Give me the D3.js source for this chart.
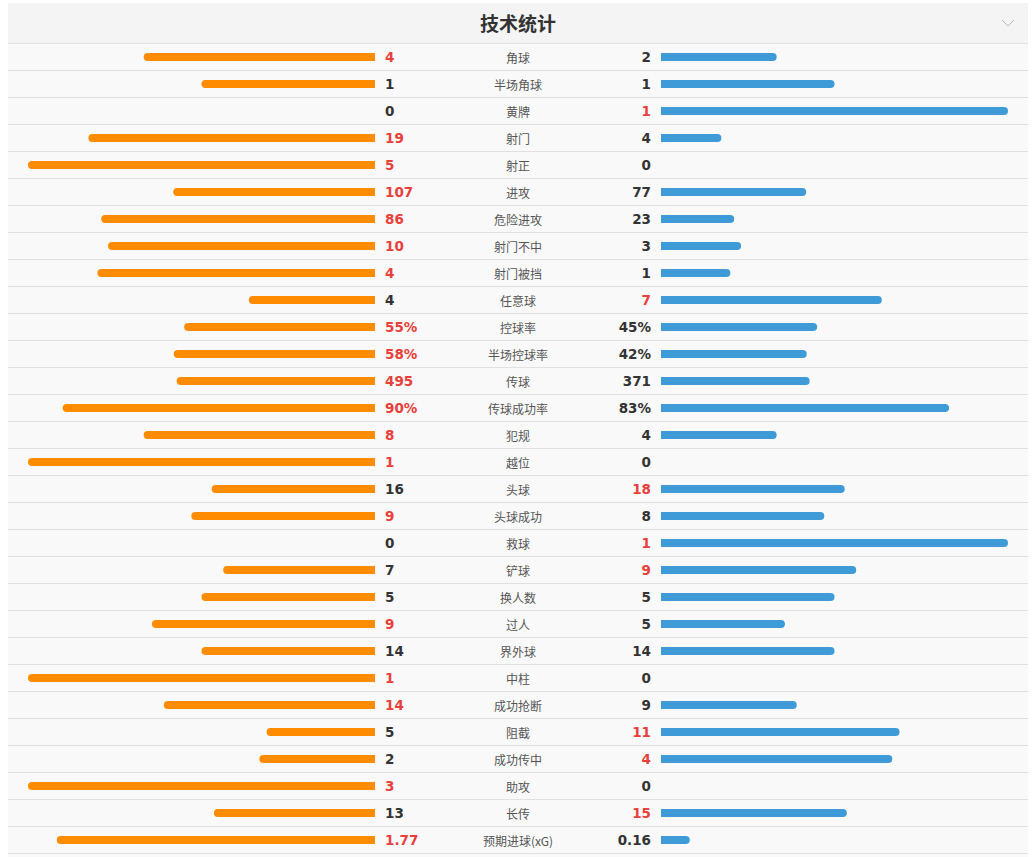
<!DOCTYPE html>
<html>
<head>
<meta charset="utf-8">
<script src="https://cdn.jsdelivr.net/npm/d3@7/dist/d3.min.js"></script>
<style>
html,body{margin:0;padding:0;background:#fff;}
svg{display:block;}
</style>
</head>
<body>
<svg id="chart" width="1036" height="857"></svg>
<script>
const title = "技术统计";
const categories = ["角球","半场角球","黄牌","射门","射正","进攻","危险进攻","射门不中","射门被挡","任意球","控球率","半场控球率","传球","传球成功率","犯规","越位","头球","头球成功","救球","铲球","换人数","过人","界外球","中柱","成功抢断","阻截","成功传中","助攻","长传","预期进球(xG)"];
const homeValues = ["4","1","0","19","5","107","86","10","4","4","55%","58%","495","90%","8","1","16","9","0","7","5","9","14","1","14","5","2","3","13","1.77"];
const awayValues = ["2","1","1","4","0","77","23","3","1","7","45%","42%","371","83%","4","0","18","8","1","9","5","5","14","0","9","11","4","0","15","0.16"];

const W = 1036, H = 857;
const panelX = 8, panelW = 1020, panelY = 3;
const headerH = 40, rowH = 27;
const centerX = 518;
const leftBarEnd = 375, rightBarStart = 661;
const barH = 8;

const svg = d3.select("#chart");

function fractions(h, a) {
  const isPct = h.endsWith("%");
  const hv = parseFloat(h), av = parseFloat(a);
  if (isPct) return [hv / 100, av / 100];
  const s = hv + av;
  return s === 0 ? [0, 0] : [hv / s, av / s];
}

const x = d3.scaleLinear().domain([0, 1]).range([0, 347]);
const y = d3.scaleBand().domain(d3.range(categories.length))
  .range([panelY + headerH, panelY + headerH + rowH * categories.length]).padding(0);

svg.append("rect").attr("x", panelX).attr("y", panelY).attr("width", panelW).attr("height", headerH).attr("fill", "#f4f4f4");
svg.append("text").attr("x", centerX).attr("y", panelY + headerH / 2 - 1)
  .attr("text-anchor", "middle").attr("dominant-baseline", "central")
  .attr("font-family", "'Noto Sans CJK SC', sans-serif").attr("font-weight", "bold")
  .attr("font-size", 19).attr("fill", "#333").text(title);
svg.append("path").attr("d", "M1002,20 L1008,26 L1014,20")
  .attr("fill", "none").attr("stroke", "#bbb").attr("stroke-width", 1);

const data = categories.map((c, i) => {
  const [fh, fa] = fractions(homeValues[i], awayValues[i]);
  const hv = parseFloat(homeValues[i]), av = parseFloat(awayValues[i]);
  return {i, c, h: homeValues[i], a: awayValues[i], fh, fa, hv, av};
});

const rows = svg.selectAll("g.row").data(data).enter().append("g").attr("class", "row")
  .attr("transform", d => `translate(0,${y(d.i)})`);

rows.append("rect").attr("x", panelX).attr("y", 0).attr("width", panelW).attr("height", rowH).attr("fill", "#f9f9f9");
rows.append("line").attr("x1", panelX).attr("x2", panelX + panelW).attr("y1", 0.5).attr("y2", 0.5)
  .attr("stroke", "#e1e1e1").attr("stroke-width", 1.2);

const by = 10, r = 4;
rows.filter(d => d.fh > 0).append("path").attr("fill", "#ff8c00")
  .attr("d", d => {
    const w = x(d.fh), x0 = leftBarEnd - w;
    return `M${leftBarEnd},${by} L${x0 + r},${by} A${r},${r} 0 0 0 ${x0 + r},${by + barH} L${leftBarEnd},${by + barH} Z`;
  });
rows.filter(d => d.fa > 0).append("path").attr("fill", "#3f9bd8")
  .attr("d", d => {
    const w = x(d.fa), x1 = rightBarStart + w;
    return `M${rightBarStart},${by} L${x1 - r},${by} A${r},${r} 0 0 1 ${x1 - r},${by + barH} L${rightBarStart},${by + barH} Z`;
  });

const numFont = "'DejaVu Sans', Verdana, sans-serif";
rows.append("text").attr("x", 385).attr("y", 13.8).attr("dominant-baseline", "central")
  .attr("font-family", numFont).attr("font-weight", "bold").attr("font-size", 13.5)
  .attr("fill", d => d.hv > d.av ? "#e8403a" : "#333").text(d => d.h);
rows.append("text").attr("x", 651).attr("y", 13.8).attr("text-anchor", "end").attr("dominant-baseline", "central")
  .attr("font-family", numFont).attr("font-weight", "bold").attr("font-size", 13.5)
  .attr("fill", d => d.av > d.hv ? "#e8403a" : "#333").text(d => d.a);
rows.append("text").attr("x", centerX).attr("y", 14).attr("text-anchor", "middle").attr("dominant-baseline", "central")
  .attr("font-family", "'Noto Sans CJK SC', sans-serif").attr("font-size", 12)
  .attr("fill", "#555").text(d => d.c);

const bottomY = y(categories.length - 1) + rowH;
svg.append("line").attr("x1", panelX).attr("x2", panelX + panelW).attr("y1", bottomY + 0.5).attr("y2", bottomY + 0.5)
  .attr("stroke", "#e1e1e1").attr("stroke-width", 1.2);
svg.append("rect").attr("x", panelX).attr("y", bottomY + 1).attr("width", panelW).attr("height", H - bottomY - 1).attr("fill", "#f9f9f9");
</script>
</body>
</html>
